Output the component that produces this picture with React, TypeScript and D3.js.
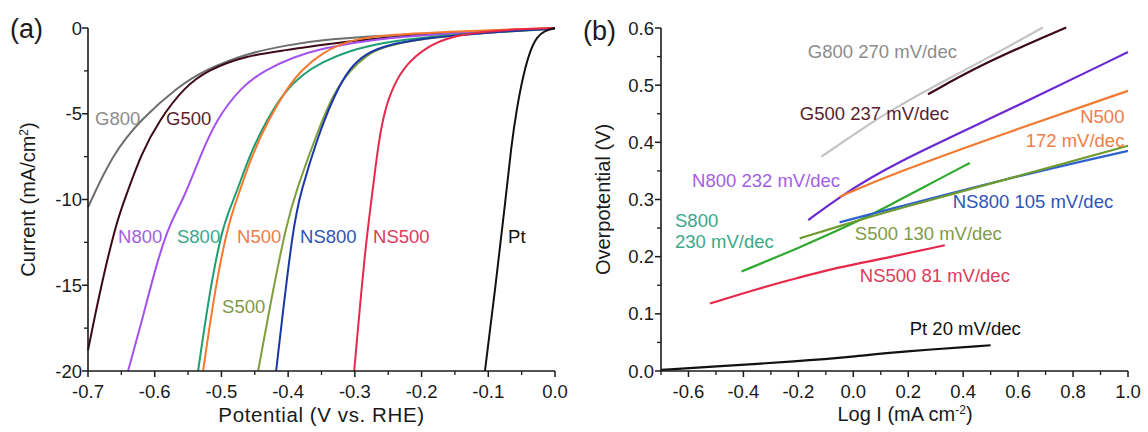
import React from 'react';
import * as d3 from 'd3';

// ---------- Panel (a) data: LSV curves [potential V vs RHE, current mA/cm2] ----------
const potentialTicks = [-0.7, -0.6, -0.5, -0.4, -0.3, -0.2, -0.1, 0.0];
const potentialMinor = [-0.65, -0.55, -0.45, -0.35, -0.25, -0.15, -0.05];
const currentTicks = [0, -5, -10, -15, -20];
const currentMinor = [-2.5, -7.5, -12.5, -17.5];

const lsvG800: [number, number][] = [[-0.7, -10.45], [-0.6625, -7.3], [-0.62, -5.3], [-0.565, -3.42], [-0.525, -2.45], [-0.46, -1.45], [-0.4, -1.0], [-0.357, -0.72], [-0.257, -0.44], [-0.157, -0.27], [-0.05, -0.08], [0, -0.02]];
const lsvG500: [number, number][] = [[-0.7, -18.8], [-0.682, -15.3], [-0.658, -11.4], [-0.645, -10.0], [-0.62, -7.3], [-0.593, -5.36], [-0.555, -3.42], [-0.52, -2.45], [-0.465, -1.62], [-0.4, -1.28], [-0.357, -1.0], [-0.257, -0.54], [-0.157, -0.31], [-0.05, -0.1], [0, -0.04]];
const lsvN800: [number, number][] = [[-0.64, -20], [-0.62, -17.2], [-0.597, -13.7], [-0.5775, -11.4], [-0.557, -10], [-0.53, -7.3], [-0.508, -5.36], [-0.47, -3.42], [-0.435, -2.45], [-0.39, -1.67], [-0.357, -1.28], [-0.3, -0.85], [-0.258, -0.6], [-0.157, -0.3], [-0.05, -0.1], [0, -0.03]];
const lsvS800: [number, number][] = [[-0.535, -20], [-0.5175, -15.3], [-0.4975, -11.4], [-0.48, -9.9], [-0.457, -7.3], [-0.43, -5.2], [-0.405, -3.7], [-0.38, -2.75], [-0.35, -2.0], [-0.307, -1.3], [-0.257, -0.85], [-0.2, -0.55], [-0.1, -0.25], [0, -0.05]];
const lsvN500: [number, number][] = [[-0.5275, -20], [-0.51, -15.3], [-0.49, -11.4], [-0.4725, -9.5], [-0.455, -7.5], [-0.43, -5.36], [-0.40, -3.42], [-0.38, -2.45], [-0.35, -1.46], [-0.307, -0.68], [-0.257, -0.42], [-0.157, -0.22], [-0.05, -0.05], [0, 0]];
const lsvS500: [number, number][] = [[-0.445, -20], [-0.4275, -16.25], [-0.4025, -11.4], [-0.3875, -9.45], [-0.357, -6.14], [-0.332, -3.8], [-0.307, -2.45], [-0.282, -1.57], [-0.257, -1.09], [-0.2, -0.6], [-0.1, -0.25], [0, -0.03]];
const lsvNS800: [number, number][] = [[-0.418, -20], [-0.3925, -11.4], [-0.38, -9.45], [-0.357, -6.5], [-0.332, -4.0], [-0.307, -2.25], [-0.282, -1.48], [-0.257, -1.05], [-0.2, -0.6], [-0.1, -0.25], [0, -0.03]];
const lsvNS500: [number, number][] = [[-0.301, -20], [-0.285, -13], [-0.275, -10], [-0.266, -7.1], [-0.257, -5.0], [-0.242, -3.3], [-0.222, -2.06], [-0.192, -1.09], [-0.157, -0.5], [-0.108, -0.21], [-0.05, -0.06], [0, 0]];
const lsvPt: [number, number][] = [[-0.105, -20], [-0.089, -15], [-0.074, -10], [-0.066, -7], [-0.057, -4.6], [-0.047, -2.64], [-0.037, -1.28], [-0.027, -0.5], [-0.015, -0.15], [0, 0]];

// ---------- Panel (b) data: Tafel lines [log I, overpotential V] ----------
const logTicks = [-0.6, -0.4, -0.2, 0.0, 0.2, 0.4, 0.6, 0.8, 1.0];
const logMinor = [-0.7, -0.5, -0.3, -0.1, 0.1, 0.3, 0.5, 0.7, 0.9];
const etaTicks = [0.0, 0.1, 0.2, 0.3, 0.4, 0.5, 0.6];
const etaMinor = [0.05, 0.15, 0.25, 0.35, 0.45, 0.55];

const tafelG800: [number, number][] = [[-0.116, 0.375], [0.024, 0.421], [0.133, 0.455], [0.3, 0.5], [0.5, 0.55], [0.69, 0.601]];
const tafelG500: [number, number][] = [[0.272, 0.484], [0.472, 0.538], [0.775, 0.601]];
const tafelN800: [number, number][] = [[-0.164, 0.264], [-0.049, 0.305], [0.133, 0.36], [0.57, 0.457], [1.0, 0.558]];
const tafelN500: [number, number][] = [[-0.049, 0.305], [0.133, 0.343], [0.57, 0.419], [1.0, 0.49]];
const tafelS800: [number, number][] = [[-0.407, 0.174], [-0.2, 0.215], [0, 0.258], [0.133, 0.29], [0.25, 0.32], [0.424, 0.364]];
const tafelS500: [number, number][] = [[-0.195, 0.232], [-0.013, 0.259], [0.133, 0.28], [0.57, 0.337], [1.0, 0.394]];
const tafelNS800: [number, number][] = [[-0.05, 0.26], [0.133, 0.283], [0.57, 0.338], [1.0, 0.385]];
const tafelNS500: [number, number][] = [[-0.522, 0.118], [-0.34, 0.145], [-0.2, 0.163], [-0.097, 0.177], [0.133, 0.199], [0.333, 0.22]];
const tafelPt: [number, number][] = [[-0.7, 0.002], [-0.5, 0.008], [-0.2, 0.017], [0, 0.025], [0.17, 0.034], [0.5, 0.045]];

// label anchors in data units
const labelsA = [
  { text: 'G800', x: -0.6895, y: -5.66, key: 'G800' },
  { text: 'G500', x: -0.583, y: -5.66, key: 'G500' },
  { text: 'N800', x: -0.655, y: -12.54, key: 'N800' },
  { text: 'S800', x: -0.5666, y: -12.54, key: 'S800' },
  { text: 'N500', x: -0.4766, y: -12.54, key: 'N500' },
  { text: 'S500', x: -0.499, y: -16.62, key: 'S500' },
  { text: 'NS800', x: -0.3822, y: -12.54, key: 'NS800' },
  { text: 'NS500', x: -0.2727, y: -12.54, key: 'NS500' },
  { text: 'Pt', x: -0.0703, y: -12.54, key: 'Pt' },
];
const labelsB = [
  { text: 'G800 270 mV/dec', x: -0.1655, y: 0.5475, key: 'G800', anchor: 'start' },
  { text: 'G500 237 mV/dec', x: -0.1945, y: 0.439, key: 'G500', anchor: 'start' },
  { text: 'N800 232 mV/dec', x: -0.587, y: 0.322, key: 'N800', anchor: 'start' },
  { text: 'N500', x: 0.987, y: 0.434, key: 'N500', anchor: 'end' },
  { text: '172 mV/dec', x: 0.987, y: 0.392, key: 'N500', anchor: 'end' },
  { text: 'S800', x: -0.649, y: 0.252, key: 'S800', anchor: 'start' },
  { text: '230 mV/dec', x: -0.649, y: 0.215, key: 'S800', anchor: 'start' },
  { text: 'NS800 105 mV/dec', x: 0.362, y: 0.285, key: 'NS800', anchor: 'start' },
  { text: 'S500 130 mV/dec', x: 0.0055, y: 0.229, key: 'S500', anchor: 'start' },
  { text: 'NS500 81 mV/dec', x: 0.0236, y: 0.1557, key: 'NS500', anchor: 'start' },
  { text: 'Pt 20 mV/dec', x: 0.2055, y: 0.063, key: 'Pt', anchor: 'start' },
];

const seriesA = [
  { key: 'G800', data: lsvG800 }, { key: 'G500', data: lsvG500 }, { key: 'N800', data: lsvN800 },
  { key: 'S800', data: lsvS800 }, { key: 'N500', data: lsvN500 }, { key: 'S500', data: lsvS500 },
  { key: 'NS800', data: lsvNS800 }, { key: 'NS500', data: lsvNS500 }, { key: 'Pt', data: lsvPt },
];
const seriesB = [
  { key: 'G800', data: tafelG800 }, { key: 'G500', data: tafelG500 }, { key: 'N800', data: tafelN800 },
  { key: 'N500', data: tafelN500 }, { key: 'S800', data: tafelS800 }, { key: 'NS800', data: tafelNS800 },
  { key: 'S500', data: tafelS500 }, { key: 'NS500', data: tafelNS500 }, { key: 'Pt', data: tafelPt },
];

const lineColorA: Record<string, string> = {
  G800: '#6e6e6e', G500: '#3c0a16', N800: '#a452ee', S800: '#1f9e72', N500: '#f5782c',
  S500: '#7d9f3c', NS800: '#1a36a6', NS500: '#e6284a', Pt: '#111111',
};
const lineColorB: Record<string, string> = {
  G800: '#c4c4c4', G500: '#3c0a16', N800: '#6a28d0', S800: '#2fa82f', N500: '#f07a30',
  S500: '#6e9a2e', NS800: '#2f62d0', NS500: '#e6284a', Pt: '#111111',
};
const labelColor: Record<string, string> = {
  G800: '#8c8c8c', G500: '#5a1e2e', N800: '#a35fe2', S800: '#3aa88a', N500: '#ee7e48',
  S500: '#7f9a48', NS800: '#2f55b5', NS500: '#e03a5a', Pt: '#111111',
};

const FONT = '"Liberation Sans", Arial, Helvetica, sans-serif';
const AX = '#1a1a1a';

export default function App() {
  // panel a scales
  const xa = d3.scaleLinear().domain([-0.7, 0.0]).range([88, 555]);
  const ya = d3.scaleLinear().domain([-20, 0]).range([371, 28]);
  // panel b scales
  const xb = d3.scaleLinear().domain([-0.7, 1.0]).range([661, 1128]);
  const yb = d3.scaleLinear().domain([0, 0.6]).range([371, 28]);

  const lineA = d3.line<[number, number]>().x(d => xa(d[0])).y(d => ya(d[1])).curve(d3.curveBasis);
  const lineB = d3.line<[number, number]>().x(d => xb(d[0])).y(d => yb(d[1])).curve(d3.curveBasis);

  const tickFs = 18.5;

  return (
    <svg width={1148} height={432} style={{ position: 'absolute', left: 0, top: 0, background: '#fff' }} fontFamily={FONT}>
      <rect x={0} y={0} width={1148} height={432} fill="#fff" />
      {/* ---------------- Panel (a) ---------------- */}
      <text x={10} y={38} fontSize={27} fill={AX}>(a)</text>
      <g>
        {seriesA.map(s => (
          <path key={s.key} d={lineA(s.data) || ''} fill="none" stroke={lineColorA[s.key]} strokeWidth={2} />
        ))}
        <line x1={xa(-0.7)} x2={xa(-0.7)} y1={ya(0)} y2={ya(-20)} stroke={AX} strokeWidth={1.6} />
        <line x1={xa(-0.7)} x2={xa(0)} y1={ya(-20)} y2={ya(-20)} stroke={AX} strokeWidth={1.6} />
        {currentTicks.map(t => (
          <g key={'ya' + t}>
            <line x1={xa(-0.7) - 6} x2={xa(-0.7)} y1={ya(t)} y2={ya(t)} stroke={AX} strokeWidth={1.5} />
            <text x={xa(-0.7) - 6} y={ya(t) + 6.5} fontSize={tickFs} textAnchor="end" fill={AX}>{t}</text>
          </g>
        ))}
        {currentMinor.map(t => (
          <line key={'yam' + t} x1={xa(-0.7) - 4} x2={xa(-0.7)} y1={ya(t)} y2={ya(t)} stroke={AX} strokeWidth={1.3} />
        ))}
        {potentialTicks.map(t => (
          <g key={'xa' + t}>
            <line x1={xa(t)} x2={xa(t)} y1={ya(-20)} y2={ya(-20) + 6} stroke={AX} strokeWidth={1.5} />
            <text x={xa(t)} y={398} fontSize={tickFs} textAnchor="middle" fill={AX}>{t.toFixed(1)}</text>
          </g>
        ))}
        {potentialMinor.map(t => (
          <line key={'xam' + t} x1={xa(t)} x2={xa(t)} y1={ya(-20)} y2={ya(-20) + 4} stroke={AX} strokeWidth={1.3} />
        ))}
        <text x={(xa(-0.7) + xa(0)) / 2} y={422} fontSize={20.5} textAnchor="middle" fill={AX} letterSpacing={0.6}>
          Potential (V vs. RHE)
        </text>
        <text transform={`translate(35,${(ya(0) + ya(-20)) / 2}) rotate(-90)`} fontSize={20} textAnchor="middle" fill={AX}>
          Current (mA/cm<tspan dy={-7} fontSize={12}>2</tspan><tspan dy={7}>)</tspan>
        </text>
        {labelsA.map(l => (
          <text key={'la' + l.text} x={xa(l.x)} y={ya(l.y)} fontSize={18.5} fill={labelColor[l.key]}>{l.text}</text>
        ))}
      </g>

      {/* ---------------- Panel (b) ---------------- */}
      <text x={583} y={40} fontSize={27} fill={AX}>(b)</text>
      <g>
        {seriesB.map(s => (
          <path key={s.key} d={lineB(s.data) || ''} fill="none" stroke={lineColorB[s.key]} strokeWidth={2.2} />
        ))}
        <line x1={xb(-0.7)} x2={xb(-0.7)} y1={yb(0.6)} y2={yb(0)} stroke={AX} strokeWidth={1.6} />
        <line x1={xb(-0.7)} x2={xb(1.0)} y1={yb(0)} y2={yb(0)} stroke={AX} strokeWidth={1.6} />
        {etaTicks.map(t => (
          <g key={'yb' + t}>
            <line x1={xb(-0.7) - 6} x2={xb(-0.7)} y1={yb(t)} y2={yb(t)} stroke={AX} strokeWidth={1.5} />
            <text x={xb(-0.7) - 7} y={yb(t) + 6.5} fontSize={tickFs} textAnchor="end" fill={AX}>{t.toFixed(1)}</text>
          </g>
        ))}
        {etaMinor.map(t => (
          <line key={'ybm' + t} x1={xb(-0.7) - 4} x2={xb(-0.7)} y1={yb(t)} y2={yb(t)} stroke={AX} strokeWidth={1.3} />
        ))}
        {logTicks.map(t => (
          <g key={'xb' + t}>
            <line x1={xb(t)} x2={xb(t)} y1={yb(0)} y2={yb(0) + 6} stroke={AX} strokeWidth={1.5} />
            <text x={xb(t)} y={398} fontSize={tickFs} textAnchor="middle" fill={AX}>{t.toFixed(1)}</text>
          </g>
        ))}
        {logMinor.map(t => (
          <line key={'xbm' + t} x1={xb(t)} x2={xb(t)} y1={yb(0)} y2={yb(0) + 4} stroke={AX} strokeWidth={1.3} />
        ))}
        <text x={905} y={421} fontSize={20} textAnchor="middle" fill={AX}>
          Log I (mA cm<tspan dy={-7} fontSize={12}>-2</tspan><tspan dy={7}>)</tspan>
        </text>
        <text transform={`translate(610,${(yb(0) + yb(0.6)) / 2}) rotate(-90)`} fontSize={20} textAnchor="middle" fill={AX}>
          Overpotential (V)
        </text>
        {labelsB.map(l => (
          <text key={'lb' + l.text} x={xb(l.x)} y={yb(l.y)} fontSize={18.5} textAnchor={l.anchor as any} fill={labelColor[l.key]}>{l.text}</text>
        ))}
      </g>
    </svg>
  );
}
